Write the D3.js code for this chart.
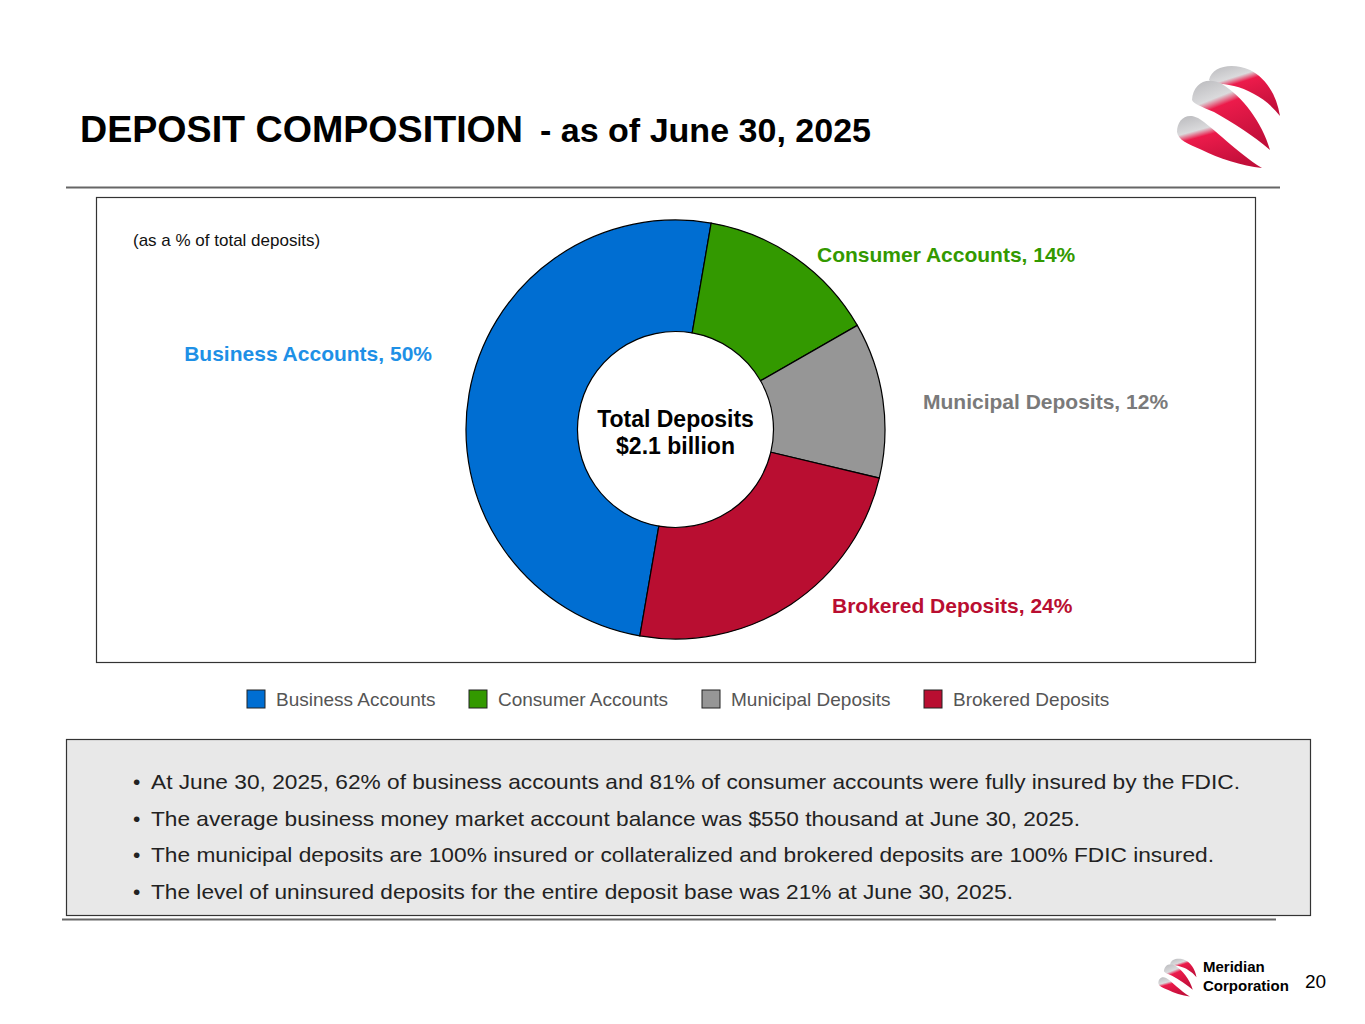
<!DOCTYPE html>
<html>
<head>
<meta charset="utf-8">
<script src="https://cdn.jsdelivr.net/npm/d3@7"></script>
<style>
  body { margin: 0; background: #fff; }
  svg { display: block; font-family: "Liberation Sans", Arial, sans-serif; }
</style>
</head>
<body>
<div class="chart"></div>
<script>
// data
const categories = ["Business Accounts", "Consumer Accounts", "Municipal Deposits", "Brokered Deposits"];
const shares = [50, 14, 12, 24];
const sliceColors = ["#006ED2", "#339900", "#969696", "#B90E31"];
const labelColors = ["#1E90E6", "#339900", "#7A7A7A", "#B90E31"];
const bullets = [
  "At June 30, 2025, 62% of business accounts and 81% of consumer accounts were fully insured by the FDIC.",
  "The average business money market account balance was $550 thousand at June 30, 2025.",
  "The municipal deposits are 100% insured or collateralized and brokered deposits are 100% FDIC insured.",
  "The level of uninsured deposits for the entire deposit base was 21% at June 30, 2025."
];
const bulletWidths = [1089, 929, 1063, 862];

const W = 1365, H = 1024;

const svg = d3.select(".chart").append("svg")
    .attr("width", W)
    .attr("height", H);

// logo gradient
const defs = svg.append("defs");
const grad = defs.append("linearGradient")
    .attr("id", "swoosh")
    .attr("x1", "10%").attr("y1", "0%")
    .attr("x2", "55%").attr("y2", "100%");
grad.append("stop").attr("offset", "0%").attr("stop-color", "#BDBDC0");
grad.append("stop").attr("offset", "28%").attr("stop-color", "#DADADC");
grad.append("stop").attr("offset", "40%").attr("stop-color", "#EC1B4B");
grad.append("stop").attr("offset", "100%").attr("stop-color", "#C20F3A");

function logo(g) {
  const bands = [
    "M1209,80 C1212,66 1232,62 1250,70 C1264,77 1276,92 1280,116 C1268,100 1250,90 1234,86 C1220,83 1212,84 1209,80 Z",
    "M1192,100 C1193,84 1206,76 1222,84 C1242,96 1262,122 1270,150 C1254,136 1232,122 1214,112 C1200,106 1194,104 1192,100 Z",
    "M1177,132 C1177,120 1186,112 1198,118 C1214,128 1236,152 1262,168 C1242,166 1218,158 1202,150 C1188,144 1178,140 1177,132 Z"
  ];
  g.selectAll("path").data(bands).enter().append("path")
      .attr("d", d => d)
      .attr("fill", "url(#swoosh)");
}

// title
svg.append("text")
    .attr("x", 80).attr("y", 142)
    .attr("font-weight", "bold").attr("font-size", "37px")
    .attr("textLength", 443).attr("lengthAdjust", "spacingAndGlyphs")
    .text("DEPOSIT COMPOSITION");
svg.append("text")
    .attr("x", 540).attr("y", 142)
    .attr("font-weight", "bold").attr("font-size", "33px")
    .attr("textLength", 331).attr("lengthAdjust", "spacingAndGlyphs")
    .text("- as of June 30, 2025");

logo(svg.append("g"));

// rules
svg.append("line").attr("x1", 66).attr("x2", 1280).attr("y1", 187.5).attr("y2", 187.5)
    .attr("stroke", "#666").attr("stroke-width", 2);
svg.append("line").attr("x1", 62).attr("x2", 1276).attr("y1", 919.5).attr("y2", 919.5)
    .attr("stroke", "#666").attr("stroke-width", 2);

// chart box
svg.append("rect").attr("x", 96.5).attr("y", 197.5).attr("width", 1159).attr("height", 465)
    .attr("fill", "#fff").attr("stroke", "#333").attr("stroke-width", 1.2);

svg.append("text").attr("x", 133).attr("y", 246)
    .attr("font-size", "17px").attr("fill", "#111")
    .text("(as a % of total deposits)");

// donut
const cx = 675.5, cy = 429.5, rOuter = 209.5, rInner = 98;
const startA = 189.8 * Math.PI / 180;
const pie = d3.pie().sort(null).value(d => d)
    .startAngle(startA).endAngle(startA + 2 * Math.PI);
const arc = d3.arc().innerRadius(rInner).outerRadius(rOuter);
const arcs = pie(shares);

const donut = svg.append("g").attr("transform", "translate(" + cx + "," + cy + ")");
donut.selectAll("path.slice")
    .data(arcs)
    .enter().append("path")
    .attr("class", "slice")
    .attr("d", arc)
    .attr("fill", (d, i) => sliceColors[i])
    .attr("stroke", "#000")
    .attr("stroke-width", 1.2);

donut.append("text").attr("text-anchor", "middle").attr("y", -3)
    .attr("font-size", "23px").attr("font-weight", "bold").text("Total Deposits");
donut.append("text").attr("text-anchor", "middle").attr("y", 24)
    .attr("font-size", "23px").attr("font-weight", "bold").text("$2.1 billion");

// slice labels
const labelPos = [
  {x: 432, y: 361, anchor: "end"},
  {x: 817, y: 262, anchor: "start"},
  {x: 923, y: 409, anchor: "start"},
  {x: 832, y: 613, anchor: "start"}
];
svg.selectAll("text.slabel")
    .data(categories)
    .enter().append("text")
    .attr("class", "slabel")
    .attr("x", (d, i) => labelPos[i].x)
    .attr("y", (d, i) => labelPos[i].y)
    .attr("text-anchor", (d, i) => labelPos[i].anchor)
    .attr("font-size", "21px").attr("font-weight", "bold")
    .attr("fill", (d, i) => labelColors[i])
    .text((d, i) => d + ", " + shares[i] + "%");

// legend
const legendX = [247, 469, 702, 924];
const legend = svg.selectAll("g.leg")
    .data(categories)
    .enter().append("g")
    .attr("class", "leg")
    .attr("transform", (d, i) => "translate(" + legendX[i] + ",690)");
legend.append("rect").attr("width", 18).attr("height", 18)
    .attr("fill", (d, i) => sliceColors[i]).attr("stroke", "#222").attr("stroke-width", 1);
legend.append("text").attr("x", 29).attr("y", 15.5)
    .attr("font-size", "19px").attr("fill", "#555").text(d => d);

// notes box
svg.append("rect").attr("x", 66.5).attr("y", 739.5).attr("width", 1244).attr("height", 176)
    .attr("fill", "#E8E8E8").attr("stroke", "#333").attr("stroke-width", 1.2);
const notes = svg.selectAll("g.note")
    .data(bullets)
    .enter().append("g")
    .attr("class", "note")
    .attr("transform", (d, i) => "translate(133," + (789 + i * 36.7) + ")");
notes.append("text").attr("font-size", "21px").attr("fill", "#222").text("\u2022");
notes.append("text").attr("x", 18).attr("font-size", "21px").attr("fill", "#222")
    .attr("textLength", (d, i) => bulletWidths[i]).attr("lengthAdjust", "spacingAndGlyphs")
    .text(d => d);

// footer
logo(svg.append("g").attr("transform", "translate(1158,958) scale(0.37) translate(-1176,-64)"));
svg.append("text").attr("x", 1203).attr("y", 972).attr("font-size", "15px")
    .attr("font-weight", "bold").text("Meridian");
svg.append("text").attr("x", 1203).attr("y", 991).attr("font-size", "15px")
    .attr("font-weight", "bold").text("Corporation");
svg.append("text").attr("x", 1305).attr("y", 988).attr("font-size", "19px").text("20");
</script>
</body>
</html>
